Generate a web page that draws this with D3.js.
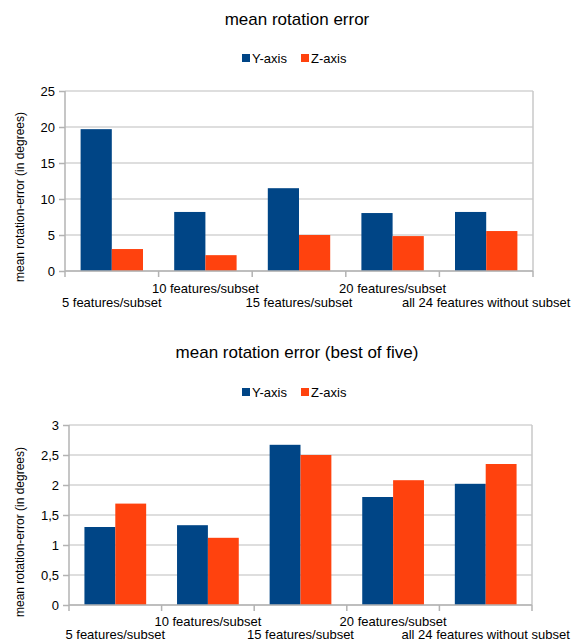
<!DOCTYPE html>
<html>
<head>
<meta charset="utf-8">
<script src="https://cdn.jsdelivr.net/npm/d3@7"></script>
<style>
  html, body { margin: 0; padding: 0; background: #fff; }
  svg { display: block; font-family: "Liberation Sans", Arial, sans-serif; }
</style>
</head>
<body>
<svg id="chart" width="579" height="643"></svg>
<script>
// Categories (feature subset sizes)
const categories = ["5 features/subset", "10 features/subset", "15 features/subset",
                    "20 features/subset", "all 24 features without subset"];
const seriesNames = ["Y-axis", "Z-axis"];
const seriesColors = ["#004586", "#ff420e"];

// Mean rotation error (degrees)
const meanY = [19.7, 8.2, 11.5, 8.05, 8.2];
const meanZ = [3.05, 2.2, 5.0, 4.85, 5.55];
const meanTicks = [0, 5, 10, 15, 20, 25];

// Mean rotation error, best of five (degrees)
const bestY = [1.3, 1.33, 2.67, 1.8, 2.02];
const bestZ = [1.69, 1.12, 2.5, 2.08, 2.35];
const bestTicks = [0, 0.5, 1, 1.5, 2, 2.5, 3];

const svg = d3.select("#chart");
const fmtComma = d => String(d).replace(".", ",");

function drawPanel(opts) {
  const { title, titleY, legendY, left, right, top, bottom, yMax, ticks, values,
          axisLabelY, rowOffsets } = opts;
  const g = svg.append("g");

  // Title
  g.append("text")
    .attr("x", 297).attr("y", titleY)
    .attr("text-anchor", "middle")
    .attr("font-size", 17).attr("fill", "#000")
    .text(title);

  // Legend
  const legend = g.append("g");
  const legendItems = [{ name: seriesNames[0], color: seriesColors[0], x: 242 },
                       { name: seriesNames[1], color: seriesColors[1], x: 301 }];
  legendItems.forEach(it => {
    legend.append("rect").attr("x", it.x).attr("y", legendY - 4)
      .attr("width", 8).attr("height", 8).attr("fill", it.color);
    legend.append("text").attr("x", it.x + 10).attr("y", legendY + 5)
      .attr("font-size", 13).attr("fill", "#000").text(it.name);
  });

  const x = d3.scaleBand().domain(categories).range([left, right]).padding(0);
  const xs = d3.scaleBand().domain(seriesNames).range([0, x.bandwidth()])
    .paddingInner(0).paddingOuter(0.5);
  const y = d3.scaleLinear().domain([0, yMax]).range([bottom, top]);

  // Gridlines
  g.append("g").selectAll("line").data(ticks).join("line")
    .attr("x1", left).attr("x2", right)
    .attr("y1", d => y(d)).attr("y2", d => y(d))
    .attr("stroke", "#d3d3d3").attr("stroke-width", 1.5);

  // Right border
  g.append("line").attr("x1", right).attr("x2", right)
    .attr("y1", top).attr("y2", bottom)
    .attr("stroke", "#c8c8c8").attr("stroke-width", 1.5);

  // Bars
  const rows = categories.map((c, i) => ({ c, vals: [values[0][i], values[1][i]] }));
  g.append("g").selectAll("g").data(rows).join("g")
    .attr("transform", d => `translate(${x(d.c)},0)`)
    .selectAll("rect")
    .data(d => d.vals.map((v, k) => ({ v, k })))
    .join("rect")
    .attr("x", d => xs(seriesNames[d.k]))
    .attr("width", xs.bandwidth())
    .attr("y", d => y(d.v))
    .attr("height", d => bottom - y(d.v))
    .attr("fill", d => seriesColors[d.k]);

  // Y axis
  const yAxis = g.append("g").attr("transform", `translate(${left},0)`)
    .call(d3.axisLeft(y).tickValues(ticks).tickSize(6).tickPadding(4)
      .tickFormat(fmtComma));
  yAxis.select(".domain").attr("stroke", "#b3b3b3").attr("stroke-width", 1.5)
    .attr("d", `M0,${top}V${bottom}`);
  yAxis.selectAll(".tick line").attr("stroke", "#b3b3b3").attr("stroke-width", 1.5);
  yAxis.selectAll(".tick text").attr("font-size", 13).attr("fill", "#000")
    .attr("font-family", "Liberation Sans, Arial, sans-serif");

  // X axis: ticks at category boundaries, staggered labels
  const xAxisG = g.append("g");
  xAxisG.append("line").attr("x1", left).attr("x2", right)
    .attr("y1", bottom).attr("y2", bottom)
    .attr("stroke", "#b3b3b3").attr("stroke-width", 1.5);
  const bounds = categories.map(c => x(c)).concat([right]);
  xAxisG.selectAll("line.bt").data(bounds).join("line").attr("class", "bt")
    .attr("x1", d => d).attr("x2", d => d)
    .attr("y1", bottom).attr("y2", bottom + 6)
    .attr("stroke", "#b3b3b3").attr("stroke-width", 1.5);
  xAxisG.selectAll("text").data(categories).join("text")
    .attr("x", d => x(d) + x.bandwidth() / 2)
    .attr("y", (d, i) => bottom + (i % 2 === 1 ? rowOffsets[0] : rowOffsets[1]))
    .attr("text-anchor", "middle")
    .attr("font-size", 13).attr("fill", "#000")
    .text(d => d);

  // Y axis title
  g.append("text")
    .attr("transform", `translate(24,${axisLabelY}) rotate(-90)`)
    .attr("text-anchor", "middle")
    .attr("font-size", 12).attr("fill", "#000")
    .text("mean rotation-error (in degrees)");
}

drawPanel({
  title: "mean rotation error", titleY: 25, legendY: 58,
  left: 65, right: 533, top: 91, bottom: 271,
  yMax: 25, ticks: meanTicks, values: [meanY, meanZ], axisLabelY: 197,
  rowOffsets: [22, 36]
});

drawPanel({
  title: "mean rotation error (best of five)", titleY: 358, legendY: 392,
  left: 69, right: 532, top: 425, bottom: 605,
  yMax: 3, ticks: bestTicks, values: [bestY, bestZ], axisLabelY: 532,
  rowOffsets: [21, 34]
});
</script>
</body>
</html>
